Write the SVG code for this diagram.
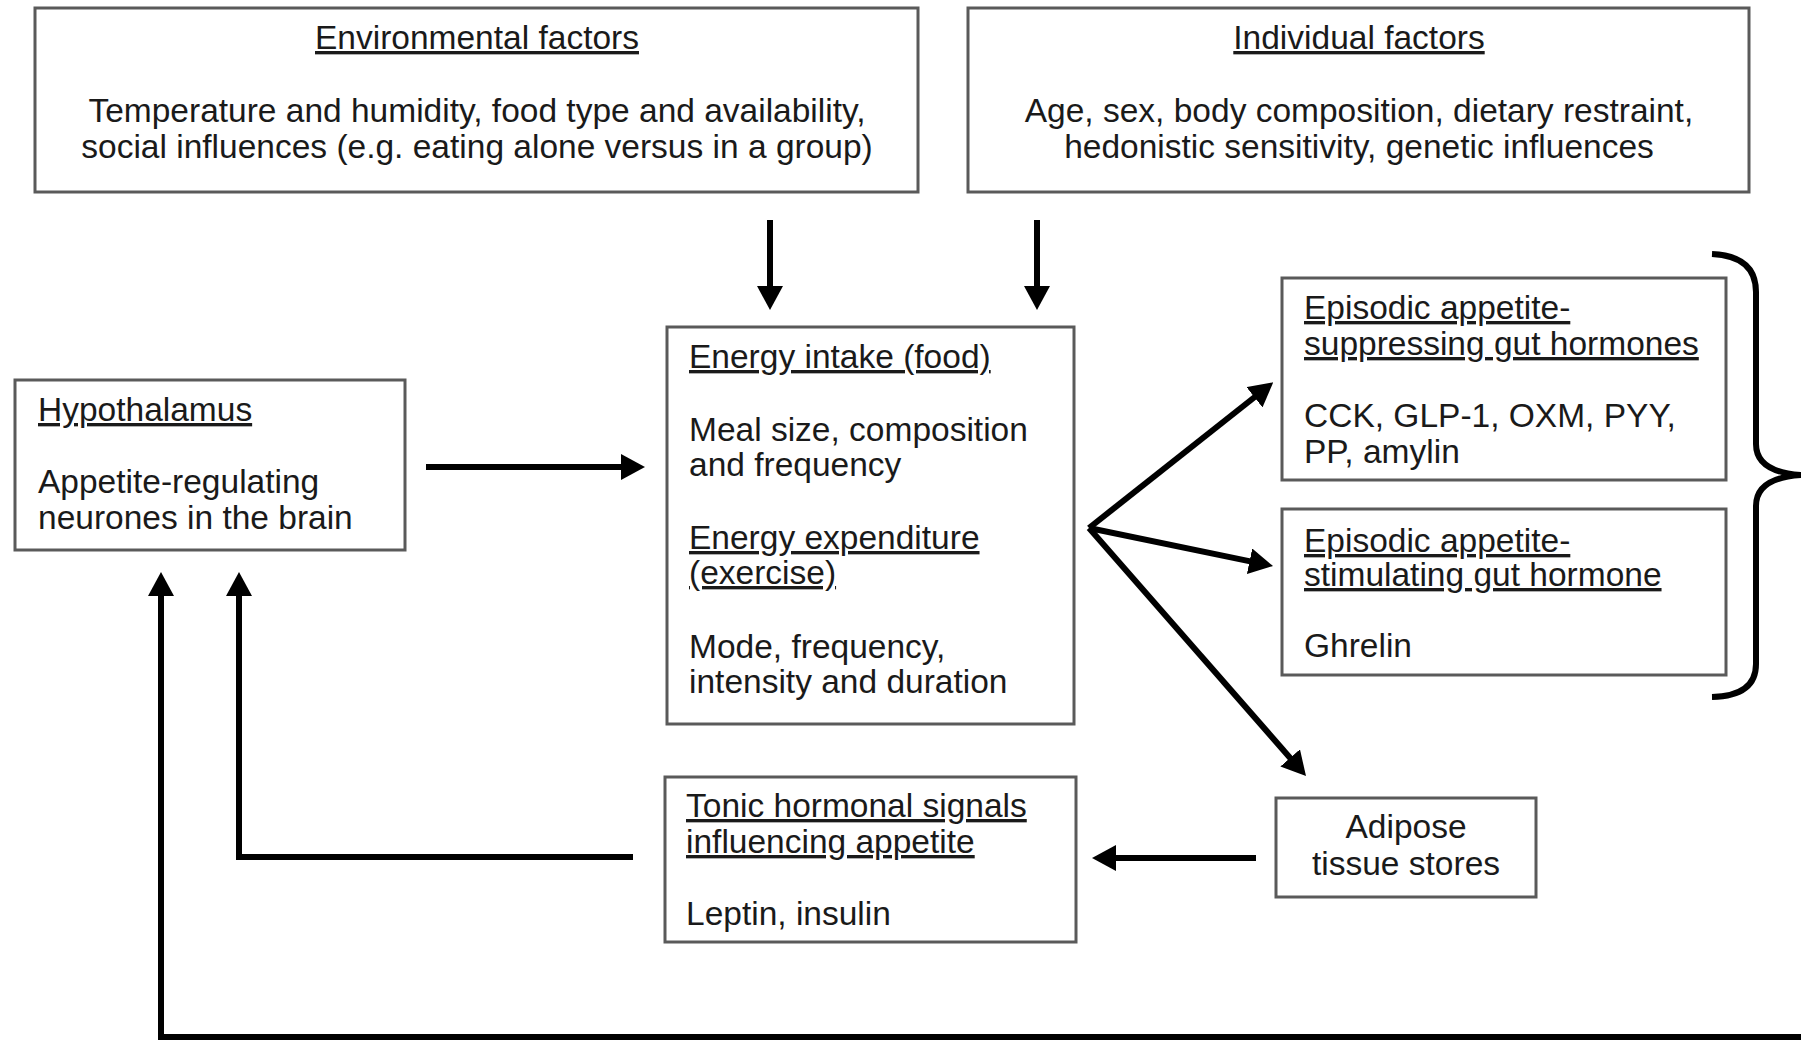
<svg xmlns="http://www.w3.org/2000/svg" width="1801" height="1042" viewBox="0 0 1801 1042">
<style>
.box{fill:#fff;stroke:#5a5a5a;stroke-width:3}
.t{font-family:"Liberation Sans",Arial,sans-serif;font-size:33.5px;fill:#1a1a1a}
.u{text-decoration:underline}
.c{text-anchor:middle}
.ar{fill:none;stroke:#000;stroke-width:6;marker-end:url(#ah)}
.ln{fill:none;stroke:#000;stroke-width:6}
</style>
<defs>
<marker id="ah" viewBox="0 0 24 26" refX="2" refY="13" markerWidth="24" markerHeight="26" markerUnits="userSpaceOnUse" orient="auto">
<path d="M0,0 L24,13 L0,26 z" fill="#000"/>
</marker>
</defs>
<rect width="1801" height="1042" fill="#fff"/>

<g id="environmental">
<rect class="box" x="35" y="8" width="883" height="184"/>
<text class="t c u" x="477" y="49">Environmental factors</text>
<text class="t c" x="477" y="122">Temperature and humidity, food type and availability,</text>
<text class="t c" x="477" y="158">social influences (e.g. eating alone versus in a group)</text>
</g>

<g id="individual">
<rect class="box" x="968" y="8" width="781" height="184"/>
<text class="t c u" x="1359" y="49">Individual factors</text>
<text class="t c" x="1359" y="122">Age, sex, body composition, dietary restraint,</text>
<text class="t c" x="1359" y="158">hedonistic sensitivity, genetic influences</text>
</g>

<g id="hypothalamus">
<rect class="box" x="15" y="380" width="390" height="170"/>
<text class="t u" x="38" y="421">Hypothalamus</text>
<text class="t" x="38" y="493">Appetite-regulating</text>
<text class="t" x="38" y="529">neurones in the brain</text>
</g>

<g id="energy">
<rect class="box" x="667" y="327" width="407" height="397"/>
<text class="t u" x="689" y="368">Energy intake (food)</text>
<text class="t" x="689" y="441">Meal size, composition</text>
<text class="t" x="689" y="476">and frequency</text>
<text class="t u" x="689" y="549">Energy expenditure</text>
<text class="t u" x="689" y="584">(exercise)</text>
<text class="t" x="689" y="658">Mode, frequency,</text>
<text class="t" x="689" y="693">intensity and duration</text>
</g>

<g id="suppressing">
<rect class="box" x="1282" y="278" width="444" height="202"/>
<text class="t u" x="1304" y="319">Episodic appetite-</text>
<text class="t u" x="1304" y="355">suppressing gut hormones</text>
<text class="t" x="1304" y="427">CCK, GLP-1, OXM, PYY,</text>
<text class="t" x="1304" y="463">PP, amylin</text>
</g>

<g id="stimulating">
<rect class="box" x="1282" y="509" width="444" height="166"/>
<text class="t u" x="1304" y="552">Episodic appetite-</text>
<text class="t u" x="1304" y="586">stimulating gut hormone</text>
<text class="t" x="1304" y="657">Ghrelin</text>
</g>

<g id="adipose">
<rect class="box" x="1276" y="798" width="260" height="99"/>
<text class="t c" x="1406" y="838">Adipose</text>
<text class="t c" x="1406" y="875">tissue stores</text>
</g>

<g id="tonic">
<rect class="box" x="665" y="777" width="411" height="165"/>
<text class="t u" x="686" y="817">Tonic hormonal signals</text>
<text class="t u" x="686" y="853">influencing appetite</text>
<text class="t" x="686" y="925">Leptin, insulin</text>
</g>

<g id="brace">
<path class="ln" d="M1712,254 Q1756,256 1756,292 L1756,444 Q1756,472 1801,475 Q1756,478 1756,506 L1756,664 Q1756,696 1712,697"/>
</g>

<g id="connectors">
<line class="ar" x1="770" y1="220" x2="770" y2="288"/>
<line class="ar" x1="1037" y1="220" x2="1037" y2="288"/>
<line class="ar" x1="426" y1="467" x2="623" y2="467"/>
<polyline class="ar" points="1089,528 1256,396"/>
<polyline class="ar" points="1089,528 1251.5,561.6"/>
<polyline class="ar" points="1089,528 1291.5,759.4"/>
<line class="ar" x1="1256" y1="858" x2="1114" y2="858"/>
<polyline class="ar" points="633,857 239,857 239,594"/>
<polyline class="ar" points="1801,1037 161,1037 161,594"/>
</g>
</svg>
